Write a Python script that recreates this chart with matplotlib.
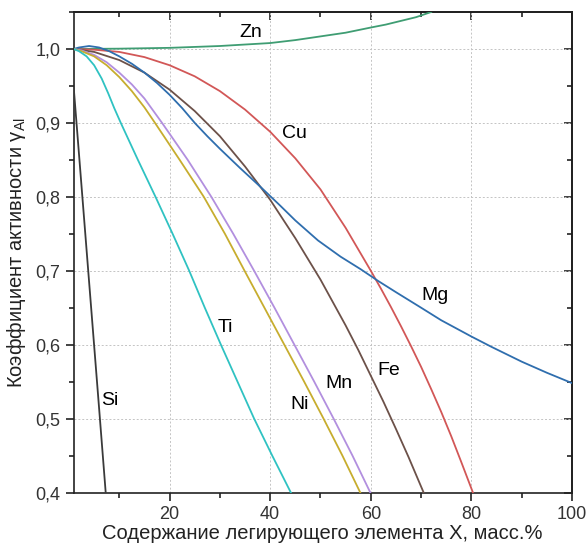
import matplotlib
matplotlib.use("Agg")
import matplotlib.pyplot as plt
from matplotlib.ticker import MultipleLocator, FuncFormatter

plt.rcParams['font.family'] = ['Liberation Sans', 'DejaVu Sans']
plt.rcParams['mathtext.fontset'] = 'custom'
plt.rcParams['mathtext.rm'] = 'Liberation Sans'
plt.rcParams['mathtext.it'] = 'Liberation Sans:italic'

# Activity coefficient of Al vs. alloying element content, wt.%
zn_x = [0.9, 10, 20, 30, 35, 40, 45, 50, 55, 60, 63, 66, 69, 72]
zn_y = [1.0, 1.0004, 1.0015, 1.004, 1.006, 1.008, 1.012, 1.017, 1.022, 1.029, 1.033, 1.038, 1.043, 1.05]

cu_x = [0.9, 5, 10, 15, 20, 25, 30, 35, 40, 45, 50, 55, 60, 62, 64, 66, 68, 70, 72, 74, 76, 78, 80.3]
cu_y = [1.0, 0.999, 0.996, 0.989, 0.978, 0.963, 0.943, 0.918, 0.888, 0.852, 0.81, 0.758, 0.7, 0.676,
        0.651, 0.625, 0.598, 0.57, 0.54, 0.509, 0.476, 0.441, 0.4]

fe_x = [0.9, 5, 10, 15, 20, 25, 30, 35, 40, 45, 50, 55, 57.5, 60, 62.5, 65, 67.5, 70.5]
fe_y = [1.0, 0.996, 0.985, 0.968, 0.945, 0.916, 0.882, 0.841, 0.796, 0.744, 0.688, 0.626, 0.593,
        0.558, 0.523, 0.486, 0.448, 0.4]

mg_x = [0.9, 2, 4, 6, 8, 10, 12.5, 15, 17.5, 20, 22.5, 25, 27.5, 30, 34, 38.3, 42, 45, 49.5, 54,
        58, 61.5, 65, 70, 74, 80, 84, 90, 95, 100]
mg_y = [1.0, 1.002, 1.004, 1.002, 0.997, 0.99, 0.98, 0.968, 0.954, 0.938, 0.92, 0.9, 0.882, 0.865,
        0.839, 0.812, 0.788, 0.768, 0.741, 0.719, 0.702, 0.686, 0.671, 0.65, 0.633, 0.611, 0.597,
        0.577, 0.562, 0.548]

mn_x = [0.9, 2.5, 5, 7.5, 10, 12.5, 15, 18.5, 23.6, 28.3, 32.65, 36.8, 40.85, 44.8, 48.75, 52.6,
        56.35, 59.9]
mn_y = [1.0, 0.998, 0.992, 0.982, 0.968, 0.952, 0.933, 0.9, 0.85, 0.8, 0.75, 0.7, 0.65, 0.6, 0.55,
        0.5, 0.45, 0.4]

ni_x = [0.9, 2.5, 5, 7.5, 10, 12.5, 15, 17.1, 22.0, 26.8, 31.0, 34.9, 38.85, 42.8, 46.75, 50.6,
        54.35, 57.9]
ni_y = [1.0, 0.997, 0.99, 0.978, 0.962, 0.943, 0.921, 0.9, 0.85, 0.8, 0.75, 0.7, 0.65, 0.6, 0.55,
        0.5, 0.45, 0.4]

ti_x = [0.9, 2, 3.5, 5, 6.5, 7.8, 9, 10.3, 13.7, 17.2, 20.6, 23.9, 27.0, 30.2, 33.5, 36.8, 40.4, 44.1]
ti_y = [1.0, 0.997, 0.99, 0.978, 0.96, 0.94, 0.92, 0.9, 0.85, 0.8, 0.75, 0.7, 0.65, 0.6, 0.55, 0.5,
        0.45, 0.4]

si_x = [0.4, 2, 4, 6, 7.3]
si_y = [0.994, 0.857, 0.685, 0.513, 0.4]

series = [
    ("Zn", zn_x, zn_y, "#3f9d73", (36.1, 1.022)),
    ("Cu", cu_x, cu_y, "#d25757", (44.8, 0.885)),
    ("Fe", fe_x, fe_y, "#6c5149", (63.6, 0.565)),
    ("Mg", mg_x, mg_y, "#2f6eae", (72.7, 0.667)),
    ("Mn", mn_x, mn_y, "#b28fdf", (53.7, 0.547)),
    ("Ni", ni_x, ni_y, "#c7ad2e", (45.8, 0.519)),
    ("Ti", ti_x, ti_y, "#2fc2c2", (31.1, 0.623)),
    ("Si", si_x, si_y, "#3a3a3a", (8.1, 0.524)),
]

x_ticks = [20, 40, 60, 80, 100]
y_ticks = [0.4, 0.5, 0.6, 0.7, 0.8, 0.9, 1.0]

fig = plt.figure(figsize=(5.88, 5.46), dpi=100)
ax = fig.add_axes([73.5 / 588, 53.5 / 546, (572 - 73.5) / 588, (492.5 - 12) / 546])

for name, xs, ys, color, (lx, ly) in series:
    ax.plot(xs, ys, color=color, lw=1.3, solid_joinstyle='round', zorder=3)
    ax.text(lx, ly, name, fontsize=14, ha='center', va='center', color='black', zorder=4)

ax.set_xlim(0.9, 100)
ax.set_ylim(0.4, 1.05)
ax.set_xticks(x_ticks)
ax.set_yticks(y_ticks)
ax.xaxis.set_minor_locator(MultipleLocator(10))
ax.yaxis.set_minor_locator(MultipleLocator(0.05))
ax.yaxis.set_major_formatter(FuncFormatter(lambda v, p: f"{v:.1f}".replace('.', ',')))

ax.grid(True, which='major', color='#c4c4c4', linestyle=(0, (2, 2)), linewidth=0.7, zorder=0)

for s in ax.spines.values():
    s.set_linewidth(1.2)
    s.set_color('#222222')

ax.tick_params(which='both', direction='out', top=False, right=False, labelsize=13, width=1.2,
               color='#222222', labelcolor='#333333')
ax.tick_params(which='major', length=6)
ax.tick_params(which='minor', length=3.5)

# inward ticks on the opposite spines
ax_top = ax.secondary_xaxis('top')
ax_top.set_xticks(x_ticks)
ax_top.xaxis.set_minor_locator(MultipleLocator(10))
ax_top.tick_params(which='both', direction='in', labeltop=False, width=1.2, color='#222222')
ax_top.tick_params(which='major', length=6)
ax_top.tick_params(which='minor', length=3.5)
ax_top.spines['top'].set_linewidth(1.2)

ax_right = ax.secondary_yaxis('right')
ax_right.set_yticks(y_ticks)
ax_right.yaxis.set_minor_locator(MultipleLocator(0.05))
ax_right.tick_params(which='both', direction='in', labelright=False, width=1.2, color='#222222')
ax_right.tick_params(which='major', length=6)
ax_right.tick_params(which='minor', length=3.5)
ax_right.spines['right'].set_linewidth(1.2)

ax.set_xlabel("Содержание легирующего элемента X, масс.%", fontsize=14.5, labelpad=1, color='#222222')
ax.set_ylabel("Коэффициент активности γ$_{\\mathrm{Al}}$", fontsize=14.5, labelpad=5, color='#222222')

fig.savefig("out.png", dpi=100)
